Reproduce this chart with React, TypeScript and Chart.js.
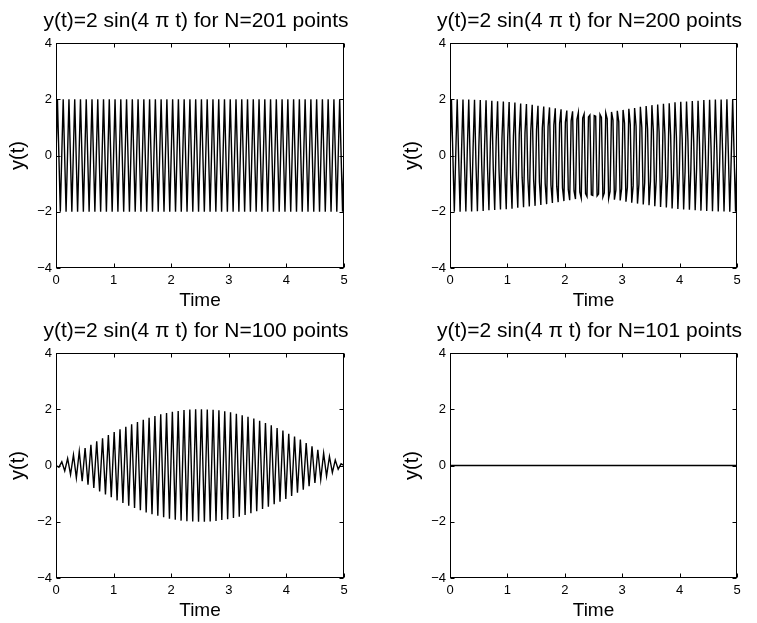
import React, { useEffect, useRef } from "react";
import { Chart, registerables } from "chart.js";

Chart.register(...registerables);

// ---------- data ----------
const T_MIN = 0;
const T_MAX = 5;
const Y_MIN = -4;
const Y_MAX = 4;
const X_TICKS = [0, 1, 2, 3, 4, 5];
const Y_TICKS = [-4, -2, 0, 2, 4];
const X_LABEL = "Time";
const Y_LABEL = "y(t)";

const TITLE_N201 = "y(t)=2 sin(4 \u03c0 t) for N=201 points";
const TITLE_N200 = "y(t)=2 sin(4 \u03c0 t) for N=200 points";
const TITLE_N100 = "y(t)=2 sin(4 \u03c0 t) for N=100 points";
const TITLE_N101 = "y(t)=2 sin(4 \u03c0 t) for N=101 points";

// samples, evenly spaced over the time axis
const Y_N201 = [
  0, 2, 0, -2, 0, 2, 0, -2, 0, 2, 0, -2, 0, 2, 0, -2, 0, 2, 0, -2, 0, 2, 0, -2, 0, 2, 0, -2, 0, 2, 0, -2, 0, 2, 0, -2, 0, 2, 0, -2,
  0, 2, 0, -2, 0, 2, 0, -2, 0, 2, 0, -2, 0, 2, 0, -2, 0, 2, 0, -2, 0, 2, 0, -2, 0, 2, 0, -2, 0, 2, 0, -2, 0, 2, 0, -2, 0, 2, 0, -2,
  0, 2, 0, -2, 0, 2, 0, -2, 0, 2, 0, -2, 0, 2, 0, -2, 0, 2, 0, -2, 0, 2, 0, -2, 0, 2, 0, -2, 0, 2, 0, -2, 0, 2, 0, -2, 0, 2, 0, -2,
  0, 2, 0, -2, 0, 2, 0, -2, 0, 2, 0, -2, 0, 2, 0, -2, 0, 2, 0, -2, 0, 2, 0, -2, 0, 2, 0, -2, 0, 2, 0, -2, 0, 2, 0, -2, 0, 2, 0, -2,
  0, 2, 0, -2, 0, 2, 0, -2, 0, 2, 0, -2, 0, 2, 0, -2, 0, 2, 0, -2, 0, 2, 0, -2, 0, 2, 0, -2, 0, 2, 0, -2, 0, 2, 0, -2, 0, 2, 0, -2,
  0,
];

const Y_N200 = [
  0, 2.0, -0.03, -2.0, 0.06, 2.0, -0.09, -2.0, 0.13, 1.99, -0.16, -1.99, 0.19, 1.99, -0.22, -1.99, 0.25, 1.98, -0.28, -1.98,
  0.31, 1.97, -0.35, -1.97, 0.38, 1.96, -0.41, -1.95, 0.44, 1.95, -0.47, -1.94, 0.5, 1.93, -0.53, -1.92, 0.56, 1.92, -0.59, -1.91,
  0.62, 1.9, -0.65, -1.89, 0.68, 1.88, -0.71, -1.86, 0.74, 1.85, -0.77, -1.84, 0.8, 1.83, -0.83, -1.81, 0.86, 1.8, -0.88, -1.79,
  0.91, 1.77, -0.94, -1.76, 0.97, 1.74, -1.0, -1.73, 1.02, 1.71, -1.05, -1.69, 1.08, 1.68, -1.1, -1.66, 1.13, 1.64, -1.15, -1.62,
  1.18, 1.6, -1.21, -1.59, 1.23, 1.57, -1.26, -1.55, 1.28, 1.53, -1.3, -1.51, 1.33, 1.48, -1.35, -1.46, 1.37, 1.44, -1.4, -1.42,
  1.42, 1.4, -1.44, -1.37, 1.46, 1.35, -1.48, -1.33, 1.51, 1.3, -1.53, -1.28, 1.55, 1.26, -1.57, -1.23, 1.59, 1.21, -1.6, -1.18,
  1.62, 1.15, -1.64, -1.13, 1.66, 1.1, -1.68, -1.08, 1.69, 1.05, -1.71, -1.02, 1.73, 1.0, -1.74, -0.97, 1.76, 0.94, -1.77, -0.91,
  1.79, 0.88, -1.8, -0.86, 1.81, 0.83, -1.83, -0.8, 1.84, 0.77, -1.85, -0.74, 1.86, 0.71, -1.88, -0.68, 1.89, 0.65, -1.9, -0.62,
  1.91, 0.59, -1.92, -0.56, 1.92, 0.53, -1.93, -0.5, 1.94, 0.47, -1.95, -0.44, 1.95, 0.41, -1.96, -0.38, 1.97, 0.35, -1.97, -0.31,
  1.98, 0.28, -1.98, -0.25, 1.99, 0.22, -1.99, -0.19, 1.99, 0.16, -1.99, -0.13, 2.0, 0.09, -2.0, -0.06, 2.0, 0.03, -2.0, 0,
];

const Y_N100 = [
  0, -0.06, 0.13, -0.19, 0.25, -0.32, 0.38, -0.44, 0.5, -0.56, 0.62, -0.68, 0.74, -0.8, 0.86, -0.92, 0.97, -1.03, 1.08, -1.13,
  1.19, -1.24, 1.29, -1.33, 1.38, -1.43, 1.47, -1.51, 1.55, -1.59, 1.63, -1.67, 1.7, -1.73, 1.76, -1.79, 1.82, -1.84, 1.87, -1.89,
  1.91, -1.93, 1.94, -1.96, 1.97, -1.98, 1.99, -1.99, 2.0, -2.0,
  2.0, -2.0, 1.99, -1.99, 1.98, -1.97, 1.96, -1.94, 1.93, -1.91, 1.89, -1.87, 1.84, -1.82, 1.79, -1.76, 1.73, -1.7, 1.67, -1.63,
  1.59, -1.55, 1.51, -1.47, 1.43, -1.38, 1.33, -1.29, 1.24, -1.19, 1.13, -1.08, 1.03, -0.97, 0.92, -0.86, 0.8, -0.74, 0.68, -0.62,
  0.56, -0.5, 0.44, -0.38, 0.32, -0.25, 0.19, -0.13, 0.06, 0,
];

const Y_N101 = [
  0, 0, 0, 0, 0, 0, 0, 0, 0, 0, 0, 0, 0, 0, 0, 0, 0, 0, 0, 0,
  0, 0, 0, 0, 0, 0, 0, 0, 0, 0, 0, 0, 0, 0, 0, 0, 0, 0, 0, 0,
  0, 0, 0, 0, 0, 0, 0, 0, 0, 0, 0, 0, 0, 0, 0, 0, 0, 0, 0, 0,
  0, 0, 0, 0, 0, 0, 0, 0, 0, 0, 0, 0, 0, 0, 0, 0, 0, 0, 0, 0,
  0, 0, 0, 0, 0, 0, 0, 0, 0, 0, 0, 0, 0, 0, 0, 0, 0, 0, 0, 0,
  0,
];

// ---------- layout / style ----------
const FONT = '"Liberation Sans", Arial, Helvetica, sans-serif';
const TITLE_SIZE = 21;
const XLABEL_SIZE = 19;
const YLABEL_SIZE = 20;
const TICK_SIZE = 13;
const AREA_TOP = 43;
const AREA_BOTTOM = 268;
const AREA_LEFT = 56;

type PanelCfg = {
  title: string;
  values: number[];
  left: number;
  top: number;
  w: number;
  h: number;
  areaRight: number;
};

const PANELS: PanelCfg[] = [
  { title: TITLE_N201, values: Y_N201, left: 0, top: 0, w: 378, h: 310, areaRight: 344 },
  { title: TITLE_N200, values: Y_N200, left: 394, top: 0, w: 363, h: 310, areaRight: 343 },
  { title: TITLE_N100, values: Y_N100, left: 0, top: 310, w: 378, h: 313, areaRight: 344 },
  { title: TITLE_N101, values: Y_N101, left: 394, top: 310, w: 363, h: 313, areaRight: 343 },
];

const fmtTick = (v: number) => (v < 0 ? "\u2212" + Math.abs(v) : String(v));

const framePlugin = {
  id: "matlabFrame",
  afterDatasetsDraw(chart: any, _args: any, opts: any) {
    const { ctx, chartArea: a, scales } = chart;
    ctx.save();
    ctx.strokeStyle = "#000";
    ctx.lineWidth = 1;
    const l = Math.round(a.left) + 0.5;
    const r = Math.round(a.right) - 0.5;
    const t = Math.round(a.top) + 0.5;
    const b = Math.round(a.bottom) - 0.5;
    ctx.strokeRect(l, t, r - l, b - t);
    const TL = 4;
    ctx.beginPath();
    X_TICKS.forEach((v) => {
      const px = Math.round(scales.x.getPixelForValue(v)) + 0.5;
      ctx.moveTo(px, b);
      ctx.lineTo(px, b - TL);
      ctx.moveTo(px, t);
      ctx.lineTo(px, t + TL);
    });
    Y_TICKS.forEach((v) => {
      const py = Math.round(scales.y.getPixelForValue(v)) + 0.5;
      ctx.moveTo(l, py);
      ctx.lineTo(l + TL, py);
      ctx.moveTo(r, py);
      ctx.lineTo(r - TL, py);
    });
    ctx.stroke();

    ctx.fillStyle = "#000";
    ctx.textAlign = "center";
    ctx.textBaseline = "middle";
    const cx = (a.left + a.right) / 2;
    const cy = (a.top + a.bottom) / 2;
    ctx.font = `${TITLE_SIZE}px ${FONT}`;
    ctx.fillText(opts.title, cx - 4, 21);
    ctx.font = `${XLABEL_SIZE}px ${FONT}`;
    ctx.fillText(X_LABEL, cx, a.bottom + 33);
    ctx.font = `${YLABEL_SIZE}px ${FONT}`;
    ctx.save();
    ctx.translate(18, cy);
    ctx.rotate(-Math.PI / 2);
    ctx.fillText(Y_LABEL, 0, 0);
    ctx.restore();
    ctx.restore();
  },
};

function Panel({ cfg }: { cfg: PanelCfg }) {
  const ref = useRef<HTMLCanvasElement>(null);
  useEffect(() => {
    const n = cfg.values.length;
    const points = cfg.values.map((y, i) => ({ x: T_MIN + ((T_MAX - T_MIN) * i) / (n - 1), y }));
    const chart = new Chart(ref.current as HTMLCanvasElement, {
      type: "line",
      data: {
        datasets: [
          {
            data: points,
            borderColor: "#000",
            borderWidth: 1.4,
            pointRadius: 0,
            fill: false,
            tension: 0,
          },
        ],
      },
      options: {
        animation: false,
        responsive: false,
        events: [],
        layout: { padding: { top: AREA_TOP, right: cfg.w - cfg.areaRight, bottom: 0, left: 0 } },
        plugins: {
          legend: { display: false },
          tooltip: { enabled: false },
          title: { display: false },
          matlabFrame: { title: cfg.title },
        } as any,
        scales: {
          x: {
            type: "linear",
            min: T_MIN,
            max: T_MAX,
            afterBuildTicks: (s: any) => {
              s.ticks = X_TICKS.map((v) => ({ value: v }));
            },
            afterFit: (s: any) => {
              s.height = cfg.h - AREA_BOTTOM;
            },
            grid: { display: false, drawTicks: false },
            border: { display: false },
            ticks: {
              padding: 5,
              color: "#000",
              font: { size: TICK_SIZE, family: FONT },
              maxRotation: 0,
              autoSkip: false,
              callback: (v: any) => fmtTick(Number(v)),
            },
          },
          y: {
            type: "linear",
            min: Y_MIN,
            max: Y_MAX,
            afterBuildTicks: (s: any) => {
              s.ticks = Y_TICKS.map((v) => ({ value: v }));
            },
            afterFit: (s: any) => {
              s.width = AREA_LEFT;
            },
            grid: { display: false, drawTicks: false },
            border: { display: false },
            ticks: {
              padding: 4,
              color: "#000",
              font: { size: TICK_SIZE, family: FONT },
              autoSkip: false,
              callback: (v: any) => fmtTick(Number(v)),
            },
          },
        },
      },
      plugins: [framePlugin],
    });
    return () => chart.destroy();
  }, [cfg]);
  return (
    <canvas
      ref={ref}
      width={cfg.w}
      height={cfg.h}
      style={{ position: "absolute", left: cfg.left, top: cfg.top, width: cfg.w, height: cfg.h }}
    />
  );
}

export default function App() {
  return (
    <div style={{ position: "fixed", left: 0, top: 0, width: 757, height: 623, background: "#fff", overflow: "hidden" }}>
      {PANELS.map((p, i) => (
        <Panel key={i} cfg={p} />
      ))}
    </div>
  );
}
